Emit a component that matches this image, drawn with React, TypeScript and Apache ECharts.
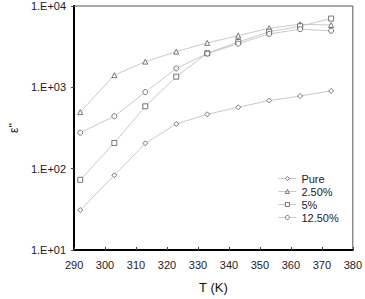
import React, { useEffect, useRef } from "react";
import * as echarts from "echarts";

const temps = [292, 303, 313, 323, 333, 343, 353, 363, 373];
const pure = [31, 83, 205, 355, 466, 569, 689, 782, 904];
const p250 = [496, 1413, 2070, 2748, 3515, 4325, 5337, 5960, 5840];
const p5 = [73, 207, 584, 1352, 2624, 3609, 4820, 5640, 7010];
const p1250 = [277, 441, 873, 1709, 2600, 3450, 4530, 5190, 4955];
const seriesNames = ["Pure", "2.50%", "5%", "12.50%"];
const symbols = ["diamond", "triangle", "rect", "circle"];

export default function App() {
  const ref = useRef<HTMLDivElement>(null);
  useEffect(() => {
    const chart = echarts.init(ref.current!, null, { renderer: "svg" });
    const all = [pure, p250, p5, p1250];
    const font = "'Liberation Sans', Arial, sans-serif";
    chart.setOption({
      animation: false,
      backgroundColor: "#fff",
      grid: {
        left: 62,
        right: 10,
        top: 6,
        bottom: 40,
        show: true,
        borderColor: "#555",
        borderWidth: 1,
      },
      legend: {
        orient: "vertical",
        left: 273,
        top: 168,
        itemWidth: 18,
        itemHeight: 5,
        itemGap: 2,
        data: seriesNames,
        itemStyle: { color: "#fff", borderColor: "#555", borderWidth: 0.8 },
        lineStyle: { color: "#bbb", width: 0.8 },
        textStyle: { fontSize: 11, color: "#222", fontFamily: font },
      },
      xAxis: {
        type: "value",
        min: 290,
        max: 380,
        interval: 10,
        name: "T (K)",
        nameLocation: "middle",
        nameGap: 31,
        nameTextStyle: { fontSize: 13, color: "#111", fontFamily: font },
        axisLine: { show: true, lineStyle: { color: "#000", width: 2 } },
        axisTick: { show: true, inside: true, length: 3, lineStyle: { color: "#444" } },
        axisLabel: { fontSize: 11, color: "#222", fontFamily: font, margin: 9 },
        splitLine: { show: false },
      },
      yAxis: {
        type: "log",
        logBase: 10,
        min: 10,
        max: 10000,
        name: "ε''",
        nameLocation: "middle",
        nameRotate: 90,
        nameGap: 53,
        nameTextStyle: { fontSize: 12, color: "#111", fontFamily: font },
        axisLine: { show: true, lineStyle: { color: "#000", width: 2 } },
        axisTick: { show: true, inside: false, length: 3, lineStyle: { color: "#444" } },
        axisLabel: {
          fontSize: 11,
          color: "#222",
          fontFamily: font,
          margin: 8,
          formatter: (v: number) => "1.E+" + String(Math.round(Math.log10(v))).padStart(2, "0"),
        },
        splitLine: { show: false },
        minorTick: { show: false },
      },
      series: all.map((arr, i) => ({
        name: seriesNames[i],
        type: "line",
        data: temps.map((t, j) => [t, arr[j]]),
        symbol: symbols[i],
        symbolSize: 5,
        showSymbol: true,
        itemStyle: { color: "#fff", borderColor: "#555", borderWidth: 0.8 },
        lineStyle: { color: "#bbb", width: 0.8 },
        emphasis: { disabled: true },
      })),
    });
    return () => chart.dispose();
  }, []);
  return <div ref={ref} style={{ width: 365, height: 299, position: "absolute", left: 0, top: 0 }} />;
}
